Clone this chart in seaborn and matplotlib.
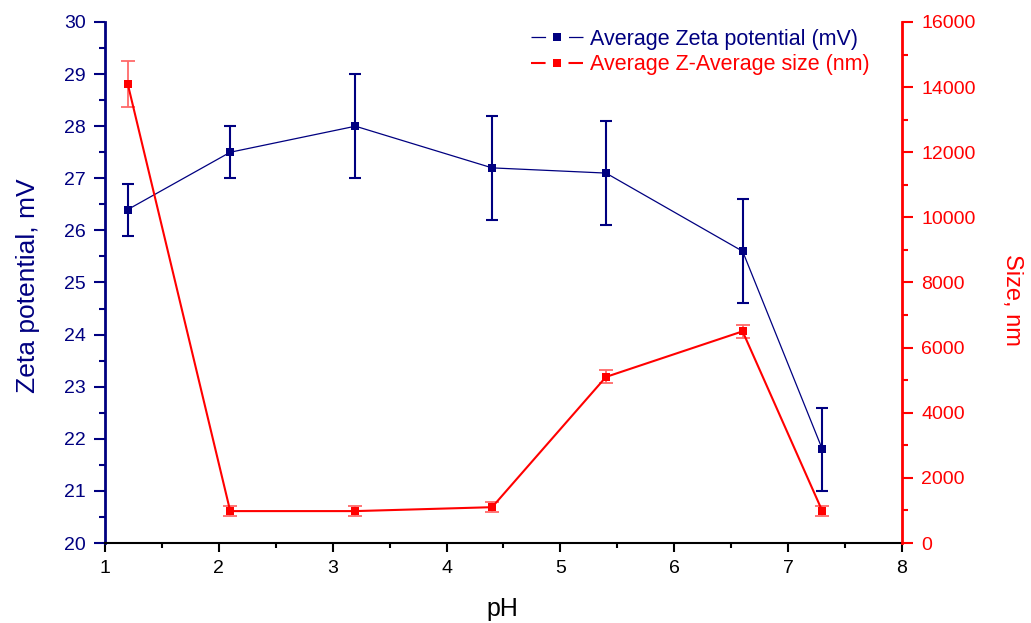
import matplotlib
matplotlib.use('Agg')
import matplotlib.pyplot as plt
import numpy as np
import pandas as pd
import seaborn as sns
from matplotlib.ticker import MultipleLocator

ph = [1.2, 2.1, 3.2, 4.4, 5.4, 6.6, 7.3]
zeta = [26.4, 27.5, 28.0, 27.2, 27.1, 25.6, 21.8]
zeta_err = [0.5, 0.5, 1.0, 1.0, 1.0, 1.0, 0.8]
size = [14100, 980, 980, 1100, 5100, 6500, 980]
size_err = [700, 150, 150, 150, 200, 200, 150]

NAVY = '#000080'
RED = '#ff0000'

sns.set_style('ticks')
plt.rcParams['font.family'] = ['Liberation Sans', 'DejaVu Sans']

df = pd.DataFrame({'pH': ph, 'zeta': zeta, 'size': size})

fig, ax = plt.subplots(figsize=(10.31, 6.23), dpi=100)
fig.subplots_adjust(left=0.1018, right=0.8749, top=0.9647, bottom=0.1284)
ax2 = ax.twinx()

# zeta potential on the left axis
ax.errorbar(ph, zeta, yerr=zeta_err, fmt='none', ecolor=NAVY, elinewidth=1.5,
            capsize=4.5, capthick=1.5, zorder=2)
sns.lineplot(data=df, x='pH', y='zeta', ax=ax, color=NAVY, linewidth=0.9,
             marker='s', markersize=5.5, markeredgewidth=0, zorder=3,
             label='Average Zeta potential (mV)', legend=False)

# size on the right axis
ax2.errorbar(ph, size, yerr=size_err, fmt='none', ecolor='#ff6a6a', elinewidth=1.3,
             capsize=5, capthick=1.3, zorder=2)
sns.lineplot(data=df, x='pH', y='size', ax=ax2, color=RED, linewidth=1.5,
             marker='s', markersize=5.5, markeredgewidth=0, zorder=3,
             label='Average Z-Average size (nm)', legend=False)

ax.set_xlim(1, 8)
ax.set_ylim(20, 30)
ax2.set_ylim(0, 16000)
ax.xaxis.set_major_locator(MultipleLocator(1))
ax.xaxis.set_minor_locator(MultipleLocator(0.5))
ax.yaxis.set_major_locator(MultipleLocator(1))
ax.yaxis.set_minor_locator(MultipleLocator(0.5))
ax2.yaxis.set_major_locator(MultipleLocator(2000))
ax2.yaxis.set_minor_locator(MultipleLocator(1000))

ax.set_xlabel('pH', fontsize=18, color='black', va='top')
ax.xaxis.set_label_coords(0.499, -0.104)
ax.set_ylabel('Zeta potential, mV', fontsize=19, color=NAVY, va='bottom')
ax.yaxis.set_label_coords(-0.082, 0.493)
ax2.set_ylabel('Size, nm', fontsize=17, color=RED, rotation=270, va='bottom')
ax2.yaxis.set_label_coords(1.124, 0.466)

ax.spines['top'].set_visible(False)
ax2.spines['top'].set_visible(False)
ax.spines['left'].set_color(NAVY)
ax.spines['left'].set_linewidth(2)
ax.spines['bottom'].set_color('black')
ax.spines['bottom'].set_linewidth(1.5)
ax2.spines['right'].set_color(RED)
ax2.spines['right'].set_linewidth(2)
ax2.spines['left'].set_visible(False)
ax2.spines['bottom'].set_visible(False)
ax.spines['right'].set_visible(False)

ax.tick_params(axis='x', which='major', length=6.5, width=1.5, colors='black',
               labelsize=14, pad=6)
ax.tick_params(axis='x', which='minor', length=3.5, width=1.5, colors='black')
ax.tick_params(axis='y', which='major', length=8, width=1.5, colors=NAVY,
               labelsize=14, pad=6)
ax.tick_params(axis='y', which='minor', length=4, width=1.5, colors=NAVY)
ax2.tick_params(axis='y', which='major', length=8, width=1.5, colors=RED,
                labelsize=14, pad=6)
ax2.tick_params(axis='y', which='minor', length=4, width=1.5, colors=RED)

h1, l1 = ax.get_legend_handles_labels()
h2, l2 = ax2.get_legend_handles_labels()
leg = fig.legend(h1 + h2, l1 + l2, loc='upper right',
                 bbox_to_anchor=(870 / 1031, 1 - 29 / 623),
                 frameon=False, fontsize=15.5, handlelength=2.4, handletextpad=0.35,
                 labelspacing=0.2, borderpad=0, borderaxespad=0)
for text, c in zip(leg.get_texts(), [NAVY, RED]):
    text.set_color(c)
# legend handle drawn as dash - marker - dash
for line in leg.get_lines():
    lw = line.get_linewidth()
    line.set_dashes([10.5 / lw, 16.5 / lw, 10.5 / lw, 16.5 / lw])

fig.savefig('out.png', dpi=100)
